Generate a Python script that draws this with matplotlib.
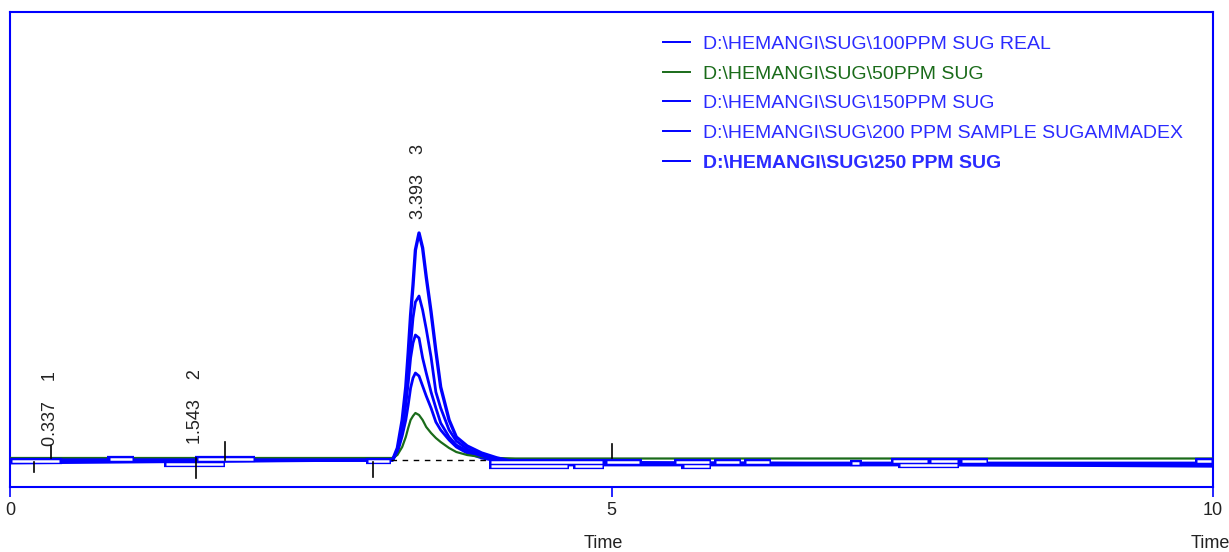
import numpy as np
import matplotlib.pyplot as plt

plt.rcParams['font.family'] = ['Liberation Sans', 'DejaVu Sans']

# retention time grid (min) shared by all traces
t = [0.00, 3.18, 3.22, 3.26, 3.29, 3.31, 3.33, 3.35, 3.37, 3.40, 3.43, 3.46,
     3.50, 3.54, 3.58, 3.65, 3.71, 3.80, 3.92, 4.05, 4.20, 10.00]

# detector response (arbitrary units)
s100 = [-1, 0, 7, 24, 40, 55, 72, 82, 87, 84, 74, 64, 52, 38, 30, 20, 13, 7, 2, -1, -3, -3]
s50 = [2, 2, 5, 13, 23, 32, 40, 44, 47, 45, 40, 33, 27, 22, 18, 12, 8, 5, 3, 2, 1.5, 1.5]
s150 = [-2, 0, 9, 30, 55, 77, 102, 117, 125, 122, 102, 87, 68, 52, 37, 23, 15, 9, 4, 0, -4, -4]
s200 = [-3, 0, 10, 32, 60, 85, 115, 142, 158, 164, 150, 131, 103, 68, 52, 30, 19, 11, 5, 1, -5, -5]
s250 = [0, 0, 12, 40, 73, 107, 145, 175, 210, 227, 212, 183, 148, 109, 73, 40, 23, 14, 7, 2, -2, -6]

labels = ['D:\\HEMANGI\\SUG\\100PPM SUG REAL',
          'D:\\HEMANGI\\SUG\\50PPM SUG',
          'D:\\HEMANGI\\SUG\\150PPM SUG',
          'D:\\HEMANGI\\SUG\\200 PPM SAMPLE SUGAMMADEX',
          'D:\\HEMANGI\\SUG\\250 PPM SUG']

# peak table
peak_rt = [0.337, 1.543, 3.393]
peak_no = ['1', '2', '3']
peak_h = [1, 3, 228]

# integration event ticks (time, from, to)
events = [(0.20, -2, -12), (0.337, 2, 14), (1.543, 2, -18), (1.79, 0, 18),
          (3.02, -2, -17), (5.00, 2, 16)]

# baseline boxes drawn by the integrator (start, end, level)
boxes = [(0.00, 0.43, -1), (0.81, 1.03, 1), (1.28, 1.79, -4), (1.54, 2.04, 1),
         (2.96, 3.17, -1), (3.98, 4.94, -2), (3.98, 4.65, -6), (4.68, 4.94, -6),
         (4.94, 5.25, -2), (5.52, 5.83, -2), (5.58, 5.83, -6), (5.85, 6.08, -2),
         (6.10, 6.33, -2), (6.98, 7.08, -3), (7.32, 7.64, -1), (7.38, 7.89, -5),
         (7.64, 7.89, -1), (7.89, 8.13, -1), (9.85, 10.0, -1)]

blue = '#0000ff'
green = '#1a6b1a'

fig = plt.figure(figsize=(12.29, 5.52), dpi=100)
ax = fig.add_axes([10 / 1229, 65 / 552, 1203 / 1229, 475 / 552])

series = [s100, s50, s150, s200, s250]
colors = [blue, green, blue, blue, blue]
widths = [2.0, 1.6, 2.0, 2.0, 2.4]
for s, c, w, lab in zip(series, colors, widths, labels):
    ax.plot(t, s, color=c, lw=w, label=lab, zorder=3)

# integrator baseline
ax.plot([3.17, 5.0], [0, 0], color='black', lw=1, ls=(0, (4, 4)), zorder=4)

for t0, t1, lev in boxes:
    ax.plot([t0, t1], [lev, lev], color=blue, lw=4.5, solid_capstyle='butt', zorder=5)
    ax.plot([t0 + 0.02, t1 - 0.02], [lev, lev], color='white', lw=1.8,
            solid_capstyle='butt', zorder=6)

for te, y0, y1 in events:
    ax.plot([te, te], [y0, y1], color='black', lw=1.2, zorder=7)

for rt, no, h in zip(peak_rt, peak_no, peak_h):
    ax.text(rt, h + 13, f'{rt:.3f}    {no}', rotation=90, ha='center', va='bottom',
            fontsize=13, color='#222222')

ax.set_xlim(0, 10)
ax.set_ylim(-27, 448)
ax.set_xticks([0, 5, 10])
ax.set_xticklabels(['0', '5', '10'], fontsize=13)
ax.set_yticks([])
ax.tick_params(axis='x', colors=blue, length=7, width=1.2, pad=4, labelcolor='#222222')
for sp in ax.spines.values():
    sp.set_color(blue)
    sp.set_linewidth(1.5)

tr = ax.get_xaxis_transform()
ax.text(4.93, -0.118, 'Time', transform=tr, ha='center', va='center', fontsize=13,
        color='#222222')
ax.text(9.975, -0.118, 'Time', transform=tr, ha='center', va='center', fontsize=13,
        color='#222222')

leg = ax.legend(loc='upper left', bbox_to_anchor=(0.5428, 0.951), frameon=False,
                fontsize=14, handlelength=1.4, handletextpad=0.65, labelspacing=0.62,
                borderpad=0, borderaxespad=0, labelcolor='linecolor')
for h in leg.get_lines():
    h.set_linewidth(1.4)
leg.get_texts()[-1].set_fontweight('bold')
for txt in leg.get_texts():
    if txt.get_color() == blue:
        txt.set_color('#2b2bff')

fig.savefig('out.png', dpi=100)
